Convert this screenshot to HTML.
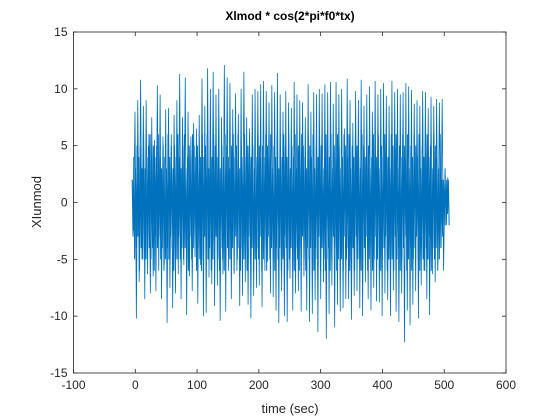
<!DOCTYPE html>
<html><head><meta charset="utf-8"><style>
body{margin:0;background:#fff;}
svg{display:block;font-family:"Liberation Sans",Arial,sans-serif;}
</style></head><body>
<svg id="chart" width="560" height="420" viewBox="0 0 560 420">
<rect width="560" height="420" fill="#fff"/>
<text x="290" y="20" font-size="12" font-weight="bold" text-anchor="middle" fill="#000">Xlmod * cos(2*pi*f0*tx)</text>
<g id="axes"></g>
<text x="290" y="413" font-size="13" text-anchor="middle" fill="#262626">time (sec)</text>
<text transform="translate(41,202) rotate(-90)" font-size="13" text-anchor="middle" fill="#262626">XIunmod</text>
</svg>
<script>
const xTicks=[-100,0,100,200,300,400,500,600];
const yTicks=[-15,-10,-5,0,5,10,15];
const xStart=-5, xEnd=508;
const signal=[
2,-2.5,8,-10.2,9,-7,10.8,-5,8.5,-8.5,
9,-6.3,6,-8,7.5,-6.5,5.5,-7.8,10.3,-6,
9.5,-8.5,5.8,-5.5,8.2,-10.6,8.3,-7.5,6,-9.3,
7.7,-8,9,-6.3,11.3,-8.5,7.5,-5.5,11,-9.9,
8,-6.5,5.8,-7.8,7,-4.8,6.5,-8.9,7.7,-5.5,
10.9,-10,8.5,-9.7,11.8,-6.6,10,-7.2,11.5,-9.1,
9.5,-7.3,10,-10.4,7.5,-6.3,12.1,-9.6,11,-6,
10.5,-8.5,8.2,-6.3,9.6,-6,7.8,-9.1,10,-8.2,
11.5,-7,7.5,-9,6.5,-10.2,9.5,-8.2,10,-7.5,
9.8,-7.3,10.4,-9.2,10.7,-6,9.8,-5.2,8.8,-8,
10.3,-8.3,9.7,-9.5,11.4,-10.6,9.5,-7.8,8,-10,
9.8,-10.5,8.8,-6.7,8.3,-9.5,10.6,-8,9.5,-7.8,
9,-9.6,8.8,-6.5,7.5,-9.5,10.4,-10.5,8,-9.8,
9.7,-8.6,9.5,-11.4,10,-8.5,9.6,-7,10.4,-12,
9.7,-9.8,10.6,-7.3,8.7,-11,10.6,-9,9.5,-9.6,
10,-9.3,6.5,-8.5,10.9,-8.5,9,-10.3,7,-8.2,
9.8,-7.8,9,-9.3,10.8,-10,8.5,-7,9.5,-8.5,
10.2,-9.5,8,-7.5,10.7,-8.7,9.5,-8.8,10,-10,
10.5,-8,9.4,-8.6,8.5,-10,10.7,-7.7,9.7,-9.6,
10,-10.5,9.5,-8,9.7,-12.3,10.5,-9.5,10.2,-10.8,
9.9,-9,8.7,-7.8,9,-10.2,8.5,-7.3,9.8,-6,
9.7,-8.5,8.3,-9.9,9.3,-6.3,8.5,-7,9.1,-5.3,
8.8,-4,9.1,-6,2.3,-2,2.2,-1.5
];
const core=[
2,-3,4,-5,3,-4,5,-3,4,-6,5,-4,3,-5,6,-4,3,-5,4,-3,
5,-4,6,-5,3,-4,5,-6,4,-3,5,-4,6,-3,4,-5,3,-4,5,-6,
4,-5,3,-4,6,-5,4,-3,5,-4,3,-6,5,-4,4,-5,6,-3,4,-5,
3,-4,5,-5,6,-4,3,-5,4,-6,5,-3,4,-5,6,-4,5,-3,4,-6,
5,-4,3,-5,4,-6,6,-5,4,-3,5,-4,6,-5,3,-4,5,-6,4,-5,
6,-4,5,-3,4,-5,6,-6,3,-4,5,-5,4,-6,6,-3,5,-4,4,-5,
3,-5,5,-4,6,-6,4,-3,5,-5,6,-4,3,-6,5,-4,4,-5,6,-5,
4,-6,5,-3,6,-5,4,-4,5,-6,3,-5,4,-4,6,-5,5,-3,4,-6,
5,-5,4,-4,6,-6,5,-3,4,-5,6,-4,3,-5,5,-6,4,-4,6,-5,
3,-4,5,-6,4,-5,6,-3,5,-4,4,-6,6,-5,3,-4,5,-5,4,-6,
6,-4,3,-5,5,-6,4,-4,6,-3,5,-5,4,-6,3,-4,6,-5,5,-4,
4,-5,6,-6,3,-4,5,-5,4,-3,6,-6,5,-4,3,-5,4,-6,6,-5,
5,-4,4,-6,6,-5,3,-3,5,-4,4,-6,6,-5,5,-4,3,-5,4,-6,
6,-3,5,-5,4,-4,6,-6,3,-5,5,-4,4,-6,6,-3,5,-5,4,-4,
3,-6,6,-5,5,-4,4,-3,6,-6,5,-5,3,-4,4,-6,6,-5,5,-3,
4,-5,6,-4,3,-6,5,-5,4,-4,6,-3,5,-6,4,-5,3,-4,6,-5,
5,-6,4,-3,6,-5,3,-4,5,-6,4,-5,6,-4,5,-3,4,-6,6,-5,
3,-4,5,-6,4,-5,6,-4,5,-3,4,-5,6,-6,3,-4,5,-5,4,-6,
5,-4,6,-5,4,-3,5,-6,3,-4,6,-5,5,-4,4,-6,3,-5,6,-4,
2,-3,2,-2,3,-2,2,-1,2,-2
];
const L=73.5,R=506,T=32,B=373;
const xs=v=>L+(v+100)/700*(R-L);
const ys=v=>B-(v+15)/30*(B-T);
const NS="http://www.w3.org/2000/svg";
const g=document.getElementById('axes');
function mk(t,a){const e=document.createElementNS(NS,t);for(const k in a)e.setAttribute(k,a[k]);return e;}
const box=mk('rect',{x:L,y:T,width:R-L,height:B-T,fill:'#fff',stroke:'#262626','stroke-width':0.8});


g.appendChild(box);
function toPts(arr){const n=arr.length;return arr.map((v,i)=>{const x=xStart+i*(xEnd-xStart)/(n-1);return xs(x).toFixed(2)+','+ys(v).toFixed(2);}).join(' ');}
const coreLine=mk('polyline',{points:toPts(core),fill:'none',stroke:'#0072BD','stroke-width':1});


g.appendChild(coreLine);
const line=mk('polyline',{points:toPts(signal),fill:'none',stroke:'#0072BD','stroke-width':0.8});


g.appendChild(line);
xTicks.forEach(t=>{const x=xs(t);
g.appendChild(mk('line',{x1:x,x2:x,y1:B,y2:B-4,stroke:'#262626','stroke-width':0.8}));
g.appendChild(mk('line',{x1:x,x2:x,y1:T,y2:T+4,stroke:'#262626','stroke-width':0.8}));
const tx=mk('text',{x:x,y:B+16,'font-size':12,'text-anchor':'middle',fill:'#262626'});tx.textContent=t;


g.appendChild(tx);});
yTicks.forEach(t=>{const y=ys(t);
g.appendChild(mk('line',{x1:L,x2:L+4,y1:y,y2:y,stroke:'#262626','stroke-width':0.8}));
g.appendChild(mk('line',{x1:R,x2:R-4,y1:y,y2:y,stroke:'#262626','stroke-width':0.8}));
const tx=mk('text',{x:L-6,y:y+4,'font-size':12,'text-anchor':'end',fill:'#262626'});tx.textContent=t;


g.appendChild(tx);});
</script>
</body></html>
